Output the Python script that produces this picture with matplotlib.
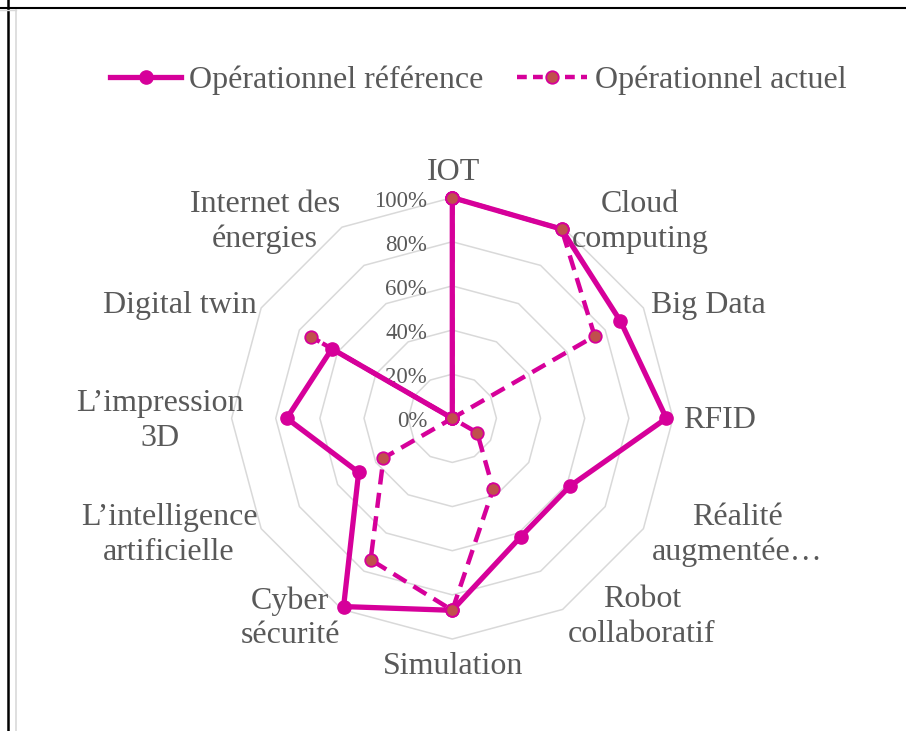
import numpy as np
import matplotlib
matplotlib.use("Agg")
import matplotlib.pyplot as plt
from matplotlib.lines import Line2D

# ---------------- data ----------------
categories = ["IOT", "Cloud\ncomputing", "Big Data", "RFID", "Réalité\naugmentée…",
              "Robot\ncollaboratif", "Simulation", "Cyber\nsécurité",
              "L’intelligence\nartificielle", "L’impression\n3D", "Digital twin",
              "Internet des\nénergies"]
reference = [1.00, 0.99, 0.88, 0.97, 0.615, 0.62, 0.87, 0.985, 0.49, 0.75, 0.63, 0.0]
actual = [1.00, 0.99, 0.745, 0.0, 0.13, 0.37, 0.87, 0.74, 0.36, 0.0, 0.74, 0.0]
ring_values = [0.2, 0.4, 0.6, 0.8, 1.0]
tick_values = [0.0, 0.2, 0.4, 0.6, 0.8, 1.0]
tick_labels = ["0%", "20%", "40%", "60%", "80%", "100%"]
series_names = ["Opérationnel référence", "Opérationnel actuel"]

# ---------------- style ----------------
MAGENTA = "#D6009A"
BROWN = "#C0504D"
GRID = "#D9D9D9"
TEXT = "#595959"
FONT = "Liberation Serif"

W, H = 906, 731
fig = plt.figure(figsize=(W / 100, H / 100), dpi=100)
fig.patch.set_facecolor("white")

cx, cy, R = 452.3, 418.3, 220.7
ax = fig.add_axes([(cx - R) / W, (H - cy - R) / H, 2 * R / W, 2 * R / H], projection="polar")
ax.set_theta_zero_location("N")
ax.set_theta_direction(-1)
ax.set_ylim(0, 1)
ax.set_xticks([])
ax.set_yticks([])
ax.grid(False)
ax.spines["polar"].set_visible(False)
ax.patch.set_alpha(0)

n = len(categories)
angles = np.linspace(0, 2 * np.pi, n, endpoint=False)
ang_c = np.concatenate([angles, angles[:1]])

# polygon rings
for v in ring_values:
    ax.plot(ang_c, [v] * (n + 1), color=GRID, lw=1.1, zorder=1, clip_on=False)

# series
ref_c = reference + reference[:1]
act_c = actual + actual[:1]
ax.plot(ang_c, ref_c, color=MAGENTA, lw=3.8, marker="o", markersize=9.5,
        markerfacecolor=MAGENTA, markeredgecolor=MAGENTA, zorder=3,
        clip_on=False, solid_joinstyle="round")
ax.plot(ang_c, act_c, color=MAGENTA, lw=3.2, linestyle=(0, (3.4, 1.9)),
        marker="o", markersize=9, markerfacecolor=BROWN,
        markeredgecolor=MAGENTA, markeredgewidth=1.3, zorder=4, clip_on=False)

# radial tick labels
for v, lab in zip(tick_values, tick_labels):
    ax.annotate(lab, xy=(0, v), xytext=(-18.2, -2.6), textcoords="offset points",
                ha="right", va="center", fontsize=16.5, color=TEXT, family=FONT,
                annotation_clip=False)

# category labels (pixel layout)
label_pos = [(453, 172), (640, 222), (708, 305), (720, 420), (737, 535),
             (642, 617), (453, 666), (290, 618), (169, 535), (160, 421),
             (180, 305), (265, 222)]
for lab, (px, py) in zip(categories, label_pos):
    fig.text(px / W, 1 - py / H, lab, ha="center", va="center", fontsize=23,
             color=TEXT, family=FONT, linespacing=1.23, multialignment="center")

# legend
handles = [
    Line2D([], [], color=MAGENTA, lw=3.8, marker="o", markersize=9.5,
           markerfacecolor=MAGENTA, markeredgecolor=MAGENTA),
    Line2D([], [], color=MAGENTA, lw=3.2, linestyle=(0, (2.2, 1.4)), marker="o",
           markersize=9, markerfacecolor=BROWN, markeredgecolor=MAGENTA,
           markeredgewidth=1.3),
]
leg = fig.legend(handles, series_names, loc="center", bbox_to_anchor=(478.5 / W, 1 - 80 / H),
                 ncol=2, frameon=False, handlelength=2.2, handletextpad=0.25,
                 columnspacing=1.05, prop={"family": FONT, "size": 23})
for t in leg.get_texts():
    t.set_color(TEXT)

# page frame lines
fig.add_artist(Line2D([0, 1], [1 - 7.5 / H, 1 - 7.5 / H], color="black", lw=1.5,
                      transform=fig.transFigure))
fig.add_artist(Line2D([7.5 / W, 7.5 / W], [0, 1], color="black", lw=1.8,
                      transform=fig.transFigure))
fig.add_artist(Line2D([15.5 / W, 15.5 / W], [0, 1 - 9.5 / H], color=GRID, lw=1.2,
                      transform=fig.transFigure))
fig.add_artist(Line2D([0, 15.5 / W], [1 - 9.5 / H, 1 - 9.5 / H], color=GRID, lw=1.0,
                      transform=fig.transFigure))

fig.savefig("out.png", dpi=100)
